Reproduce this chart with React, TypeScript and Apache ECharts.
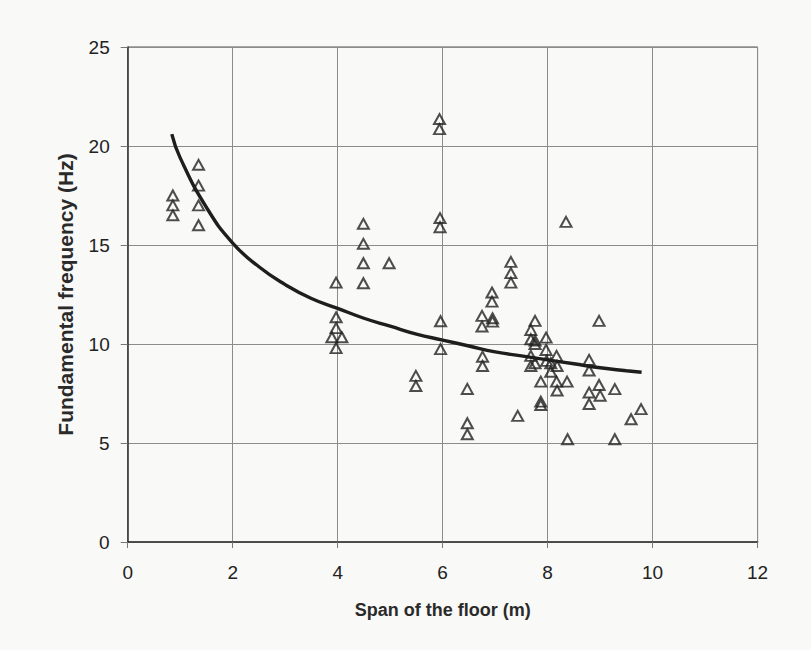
import React, { useEffect, useRef } from "react";
import * as echarts from "echarts";

const spanX: number[] = [
  0.86, 0.86, 0.86, 1.35, 1.35, 1.35, 1.35,
  3.97, 3.97, 3.97, 3.89, 4.08, 3.97,
  4.49, 4.49, 4.49, 4.49, 4.98, 5.49, 5.49,
  5.94, 5.94, 5.95, 5.95, 5.96, 5.96,
  6.47, 6.47, 6.47, 6.75, 6.75, 6.76, 6.76, 6.94, 6.94, 6.95, 6.95,
  7.30, 7.30, 7.30, 7.43, 7.68, 7.68, 7.68, 7.68, 7.76, 7.76, 7.76, 7.76,
  7.87, 7.87, 7.87, 7.97, 7.97, 7.98, 8.06, 8.06, 8.17, 8.18, 8.17, 8.18,
  8.35, 8.37, 8.38, 8.79, 8.79, 8.79, 8.79, 8.98, 8.98, 9.0, 9.28, 9.28, 9.59, 9.78,
];
const freqY: number[] = [
  17.5, 17.0, 16.5, 19.05, 18.0, 17.0, 16.0,
  13.1, 11.35, 10.8, 10.34, 10.34, 9.79,
  16.07, 15.06, 14.08, 13.07, 14.08, 8.39, 7.88,
  21.36, 20.85, 16.36, 15.9, 11.15, 9.74,
  7.73, 6.0, 5.44, 11.42, 10.88, 9.36, 8.89, 12.6, 12.14, 11.3, 11.13,
  14.15, 13.58, 13.1, 6.37, 10.71, 10.24, 9.4, 8.89, 11.17, 10.17, 10.0, 9.03,
  8.1, 7.09, 6.92, 10.32, 9.7, 9.15, 9.03, 8.6, 9.4, 8.89, 8.1, 7.65,
  16.17, 8.1, 5.19, 9.2, 8.66, 7.55, 6.97, 11.17, 7.93, 7.39, 7.72, 5.19, 6.2, 6.71,
];

const curveX: number[] = [0.84, 1.0, 1.5, 2.0, 2.5, 3.0, 3.5, 4.0, 4.5, 5.0, 5.5, 6.0, 6.5, 7.0, 7.5, 8.0, 8.5, 9.0, 9.5, 9.79];
const curveY: number[] = [20.6, 19.4, 16.9, 15.1, 13.9, 13.0, 12.3, 11.8, 11.3, 10.9, 10.5, 10.2, 9.9, 9.6, 9.4, 9.2, 9.0, 8.8, 8.65, 8.57];

const xTicks: number[] = [0, 2, 4, 6, 8, 10, 12];
const yTicks: number[] = [0, 5, 10, 15, 20, 25];

const BG = "#f9f9f7";

export default function App() {
  const ref = useRef<HTMLDivElement>(null);
  useEffect(() => {
    document.body.style.margin = "0";
    document.body.style.background = BG;
    if (!ref.current) return;
    const chart = echarts.init(ref.current, undefined, { renderer: "svg" });
    const font = "'Liberation Sans', Arial, sans-serif";
    chart.setOption({
      animation: false,
      backgroundColor: BG,
      grid: {
        left: 127.7,
        right: 53.4,
        top: 47,
        bottom: 108,
        show: true,
        borderColor: "#555",
        borderWidth: 1,
      },
      xAxis: {
        type: "value",
        min: xTicks[0],
        max: xTicks[xTicks.length - 1],
        interval: 2,
        name: "Span of the floor (m)",
        nameLocation: "middle",
        nameGap: 59,
        nameTextStyle: { fontFamily: font, fontSize: 18, fontWeight: "bold", color: "#2a2a2a" },
        axisLine: { lineStyle: { color: "#333", width: 1.5 } },
        axisTick: { show: true, inside: false, length: 6, lineStyle: { color: "#777" } },
        axisLabel: { fontFamily: font, fontSize: 19, color: "#222", margin: 21 },
        splitLine: { show: true, lineStyle: { color: "#8c8c8c", width: 1 } },
      },
      yAxis: {
        type: "value",
        min: yTicks[0],
        max: yTicks[yTicks.length - 1],
        interval: 5,
        name: "Fundamental frequency (Hz)",
        nameLocation: "middle",
        nameGap: 52,
        nameTextStyle: { fontFamily: font, fontSize: 21, fontWeight: "bold", color: "#2a2a2a" },
        axisLine: { show: true, lineStyle: { color: "#333", width: 1.5 } },
        axisTick: { show: true, inside: false, length: 7, lineStyle: { color: "#777" } },
        axisLabel: { fontFamily: font, fontSize: 19, color: "#222", margin: 18 },
        splitLine: { show: true, lineStyle: { color: "#8c8c8c", width: 1 } },
      },
      series: [
        {
          type: "scatter",
          data: spanX.map((x, i) => [x, freqY[i]]),
          symbol: "triangle",
          symbolSize: [11, 10],
          itemStyle: { color: "rgba(0,0,0,0)", borderColor: "#222", borderWidth: 2 },
          z: 3,
        },
        {
          type: "line",
          data: curveX.map((x, i) => [x, curveY[i]]),
          smooth: true,
          showSymbol: false,
          lineStyle: { color: "#1e1e1e", width: 3.4 },
          z: 4,
        },
      ],
    });
    return () => chart.dispose();
  }, []);
  return <div ref={ref} style={{ width: 811, height: 650 }} />;
}
